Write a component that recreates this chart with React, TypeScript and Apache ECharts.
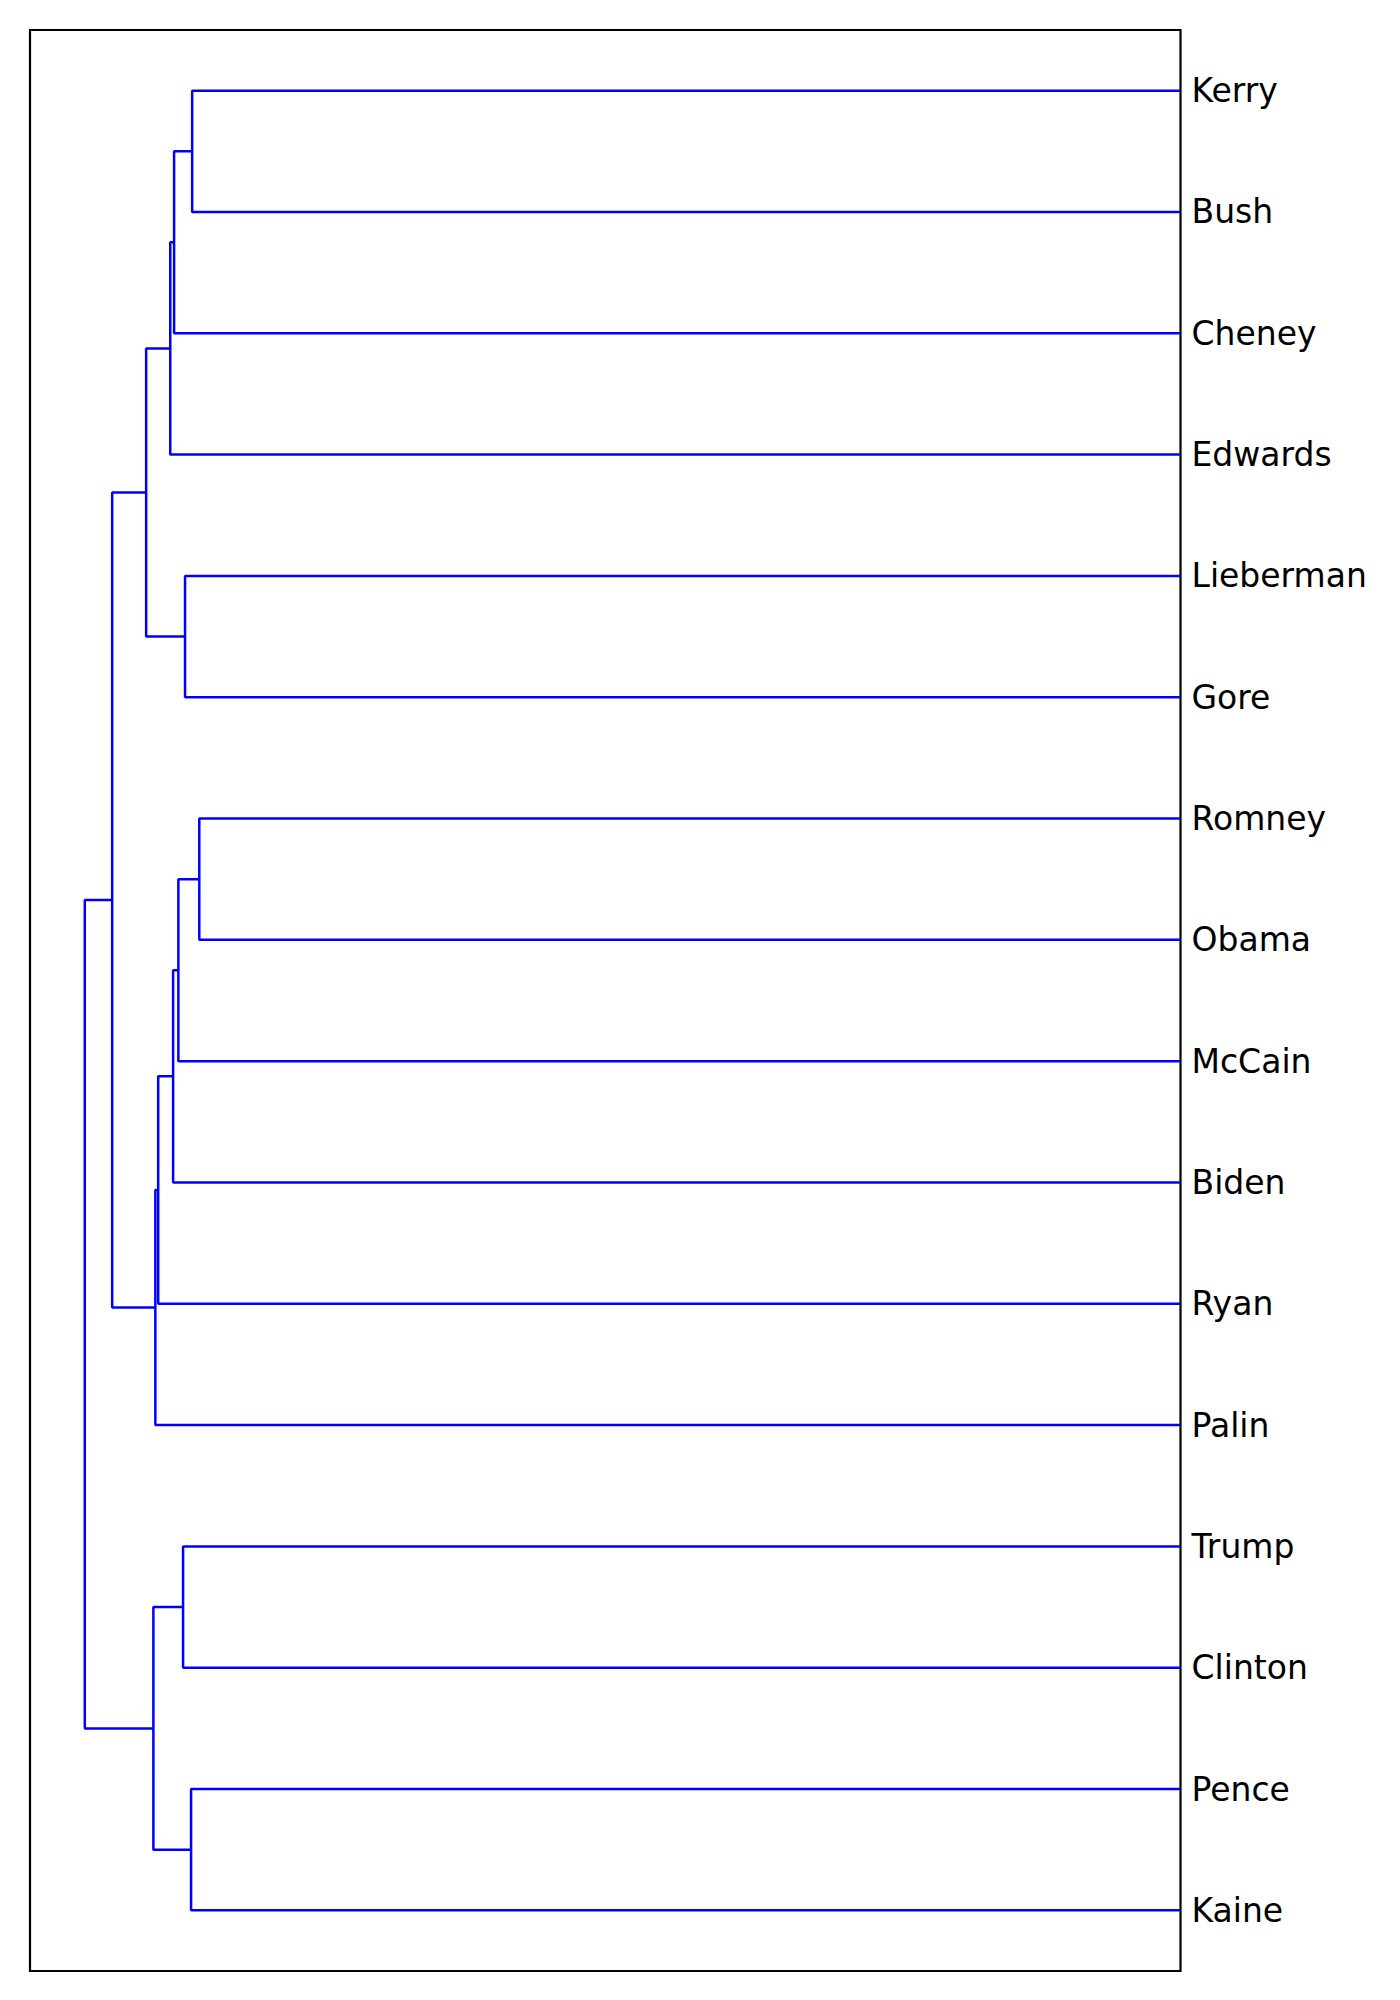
import React, { useEffect, useRef } from "react";
import * as echarts from "echarts";

// Leaf labels, top to bottom
const leaves = [
  "Kerry", "Bush", "Cheney", "Edwards", "Lieberman", "Gore",
  "Romney", "Obama", "McCain", "Biden", "Ryan", "Palin",
  "Trump", "Clinton", "Pence", "Kaine",
];

// Linkage: children (leaf index 0..15, cluster index 16+) and merge distance
const mergeLeft = [0, 16, 17, 4, 18, 6, 21, 22, 23, 24, 20, 12, 14, 27, 26];
const mergeRight = [1, 2, 3, 5, 19, 7, 8, 9, 10, 11, 25, 13, 15, 28, 29];
const mergeDist = [
  0.902, 0.9185, 0.922, 0.9085, 0.944,
  0.8955, 0.9146, 0.9194, 0.933, 0.9356,
  0.975, 0.9103, 0.903, 0.9374, 1.0,
];

const AXIS_MAX = 1.05;

export default function App() {
  const ref = useRef<HTMLDivElement>(null);

  useEffect(() => {
    document.body.style.margin = "0";
    const chart = echarts.init(ref.current!, null, { renderer: "svg" });

    const n = leaves.length;
    const posY: number[] = leaves.map((_, i) => 10 * i + 5);
    const posD: number[] = leaves.map(() => 0);
    const series: any[] = [];
    mergeLeft.forEach((a, k) => {
      const b = mergeRight[k];
      const d = mergeDist[k];
      const ya = posY[a];
      const yb = posY[b];
      posY[n + k] = (ya + yb) / 2;
      posD[n + k] = d;
      series.push({
        type: "line",
        xAxisIndex: 0,
        yAxisIndex: 0,
        symbol: "none",
        silent: true,
        lineStyle: { color: "#0000ff", width: 2.5 },
        data: [
          [posD[a], ya],
          [d, ya],
          [d, yb],
          [posD[b], yb],
        ],
      });
    });

    chart.setOption({
      animation: false,
      backgroundColor: "#ffffff",
      grid: {
        left: 30,
        top: 30,
        width: 1150.5,
        height: 1941,
        show: true,
        borderColor: "#000000",
        borderWidth: 2.2,
        backgroundColor: "transparent",
      },
      xAxis: {
        type: "value",
        min: 0,
        max: AXIS_MAX,
        inverse: true,
        axisLine: { show: false },
        axisTick: { show: false },
        axisLabel: { show: false },
        splitLine: { show: false },
      },
      yAxis: [
        {
          type: "value",
          min: 0,
          max: 160,
          inverse: true,
          axisLine: { show: false },
          axisTick: { show: false },
          axisLabel: { show: false },
          splitLine: { show: false },
        },
        {
          type: "category",
          data: leaves,
          inverse: true,
          position: "right",
          boundaryGap: true,
          axisLine: { show: false },
          axisTick: { show: false },
          splitLine: { show: false },
          axisLabel: {
            show: true,
            margin: 11,
            fontSize: 33,
            color: "#000000",
            fontFamily: "DejaVu Sans",
            padding: [0, 0, 8, 0],
          },
        },
      ],
      series,
    });

    return () => chart.dispose();
  }, []);

  return <div ref={ref} style={{ width: 1400, height: 2000 }} />;
}
